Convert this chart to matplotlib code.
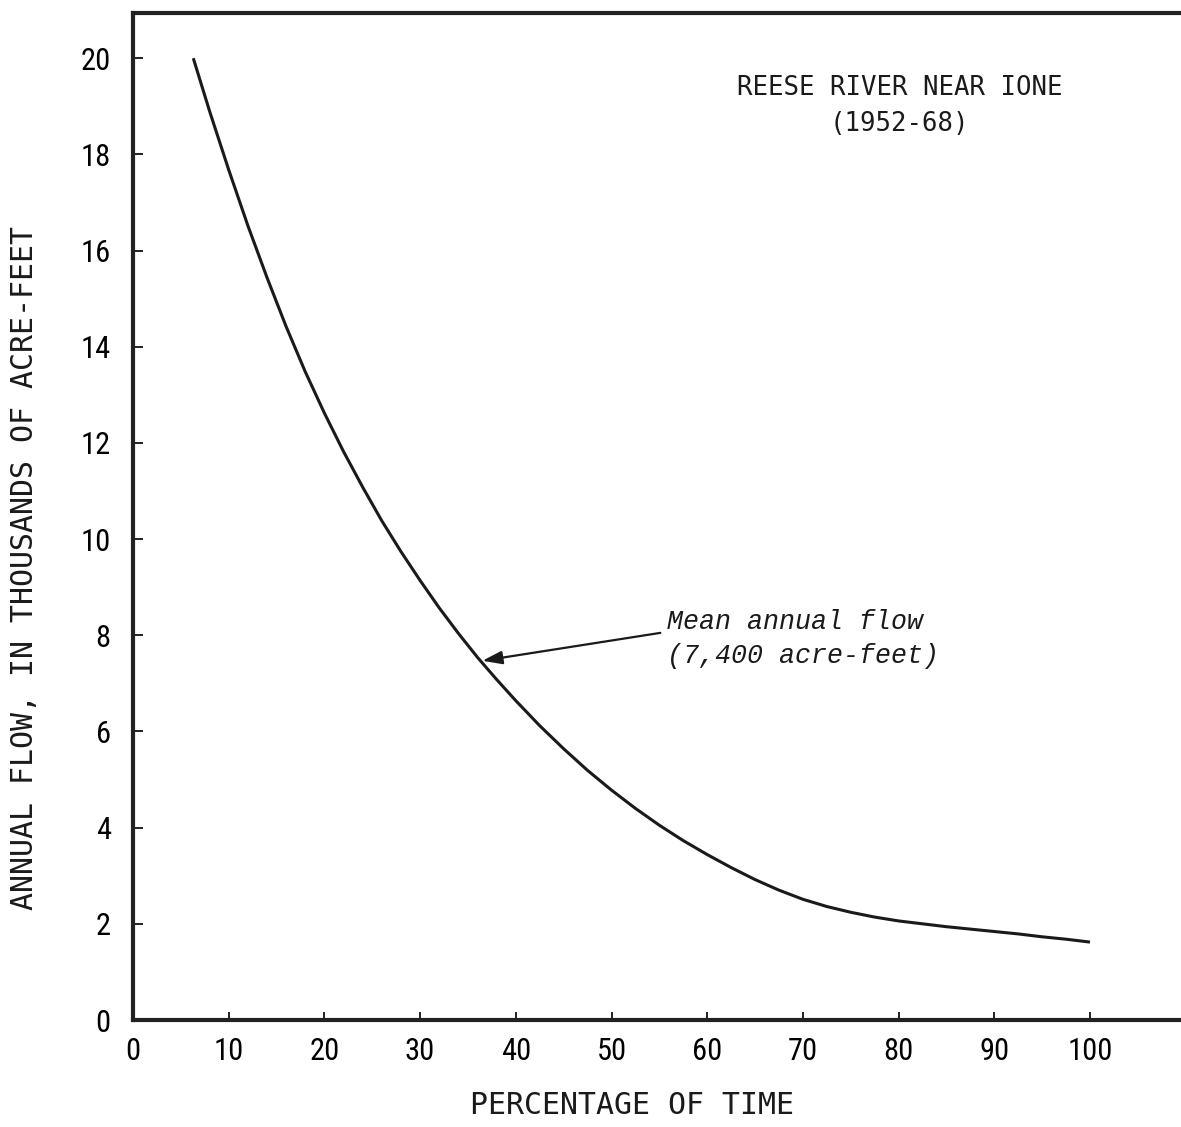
import matplotlib
matplotlib.use("Agg")
import matplotlib.pyplot as plt

# Flow-duration curve, Reese River near Ione (1952-68)
pct_time = [6.3, 8, 10, 12, 14, 16, 18, 20, 22, 24, 26, 28, 30, 32, 34, 36, 38,
            40, 42.5, 45, 47.5, 50, 52.5, 55, 57.5, 60, 62.5, 65, 67.5, 70, 72.5,
            75, 77.5, 80, 82.5, 85, 87.5, 90, 92.5, 95, 97.5, 100]
flow_kaf = [20.0, 18.9, 17.68, 16.52, 15.44, 14.42, 13.48, 12.62, 11.82, 11.08,
            10.38, 9.74, 9.14, 8.57, 8.04, 7.54, 7.08, 6.64, 6.12, 5.64, 5.19,
            4.78, 4.4, 4.05, 3.73, 3.44, 3.17, 2.92, 2.7, 2.51, 2.36, 2.24, 2.14,
            2.06, 2.0, 1.94, 1.89, 1.84, 1.79, 1.73, 1.68, 1.62]

x_ticks = list(range(0, 101, 10))
y_ticks = list(range(0, 21, 2))

title_txt = "REESE RIVER NEAR IONE\n(1952-68)"
note_txt = "Mean annual flow\n(7,400 acre-feet)"
arrow_head = (36.5, 7.47)
arrow_tail = (55.1, 8.05)

W, H = 1181, 1127
ink = "#1a1a1a"
fig = plt.figure(figsize=(W / 100, H / 100), dpi=100)
ax = fig.add_axes([133 / W, 1 - 1020 / H, (W - 133) / W, 1007 / H])

ax.plot(pct_time, flow_kaf, color=ink, lw=2.2, solid_capstyle="butt")

ax.set_xlim(0, (W - 133) / 9.57)
ax.set_ylim(0, 20.94)
ax.set_xticks(x_ticks)
ax.set_yticks(y_ticks)

tick_font = dict(family=["Roboto Condensed", "DejaVu Sans"], size=22)
ax.set_xticklabels([str(v) for v in x_ticks], **tick_font)
ax.set_yticklabels([str(v) for v in y_ticks], **tick_font)
ax.tick_params(axis="x", direction="in", length=6, width=1.4, pad=12, color="#222")
ax.tick_params(axis="y", direction="in", length=7, width=1.4, pad=16, color="#222")

for s in ["left", "bottom", "top"]:
    ax.spines[s].set_linewidth(3)
    ax.spines[s].set_color("#222")
ax.spines["right"].set_visible(False)

ax.text(80.1, 19.0, title_txt, ha="center", va="center", multialignment="center",
        family="DejaVu Sans Mono", size=18.5, linespacing=1.5, color=ink)

ax.annotate("", xy=arrow_head, xytext=arrow_tail,
            arrowprops=dict(arrowstyle="-|>,head_length=0.6,head_width=0.2",
                            mutation_scale=20, lw=1.6, color=ink,
                            shrinkA=0, shrinkB=0))
ax.text(55.8, 7.92, note_txt, ha="left", va="center", family="Liberation Mono",
        style="italic", size=19.2, linespacing=1.4, color=ink)

lab_font = dict(family="DejaVu Sans Mono", size=21.5, color=ink)
fig.text(632 / W, 1 - 1105 / H, "PERCENTAGE OF TIME", ha="center", va="center", **lab_font)
fig.text(25 / W, 1 - 568 / H, "ANNUAL FLOW, IN THOUSANDS OF ACRE-FEET", ha="center",
         va="center", rotation=90, **lab_font)

fig.savefig("out.png", dpi=100)
